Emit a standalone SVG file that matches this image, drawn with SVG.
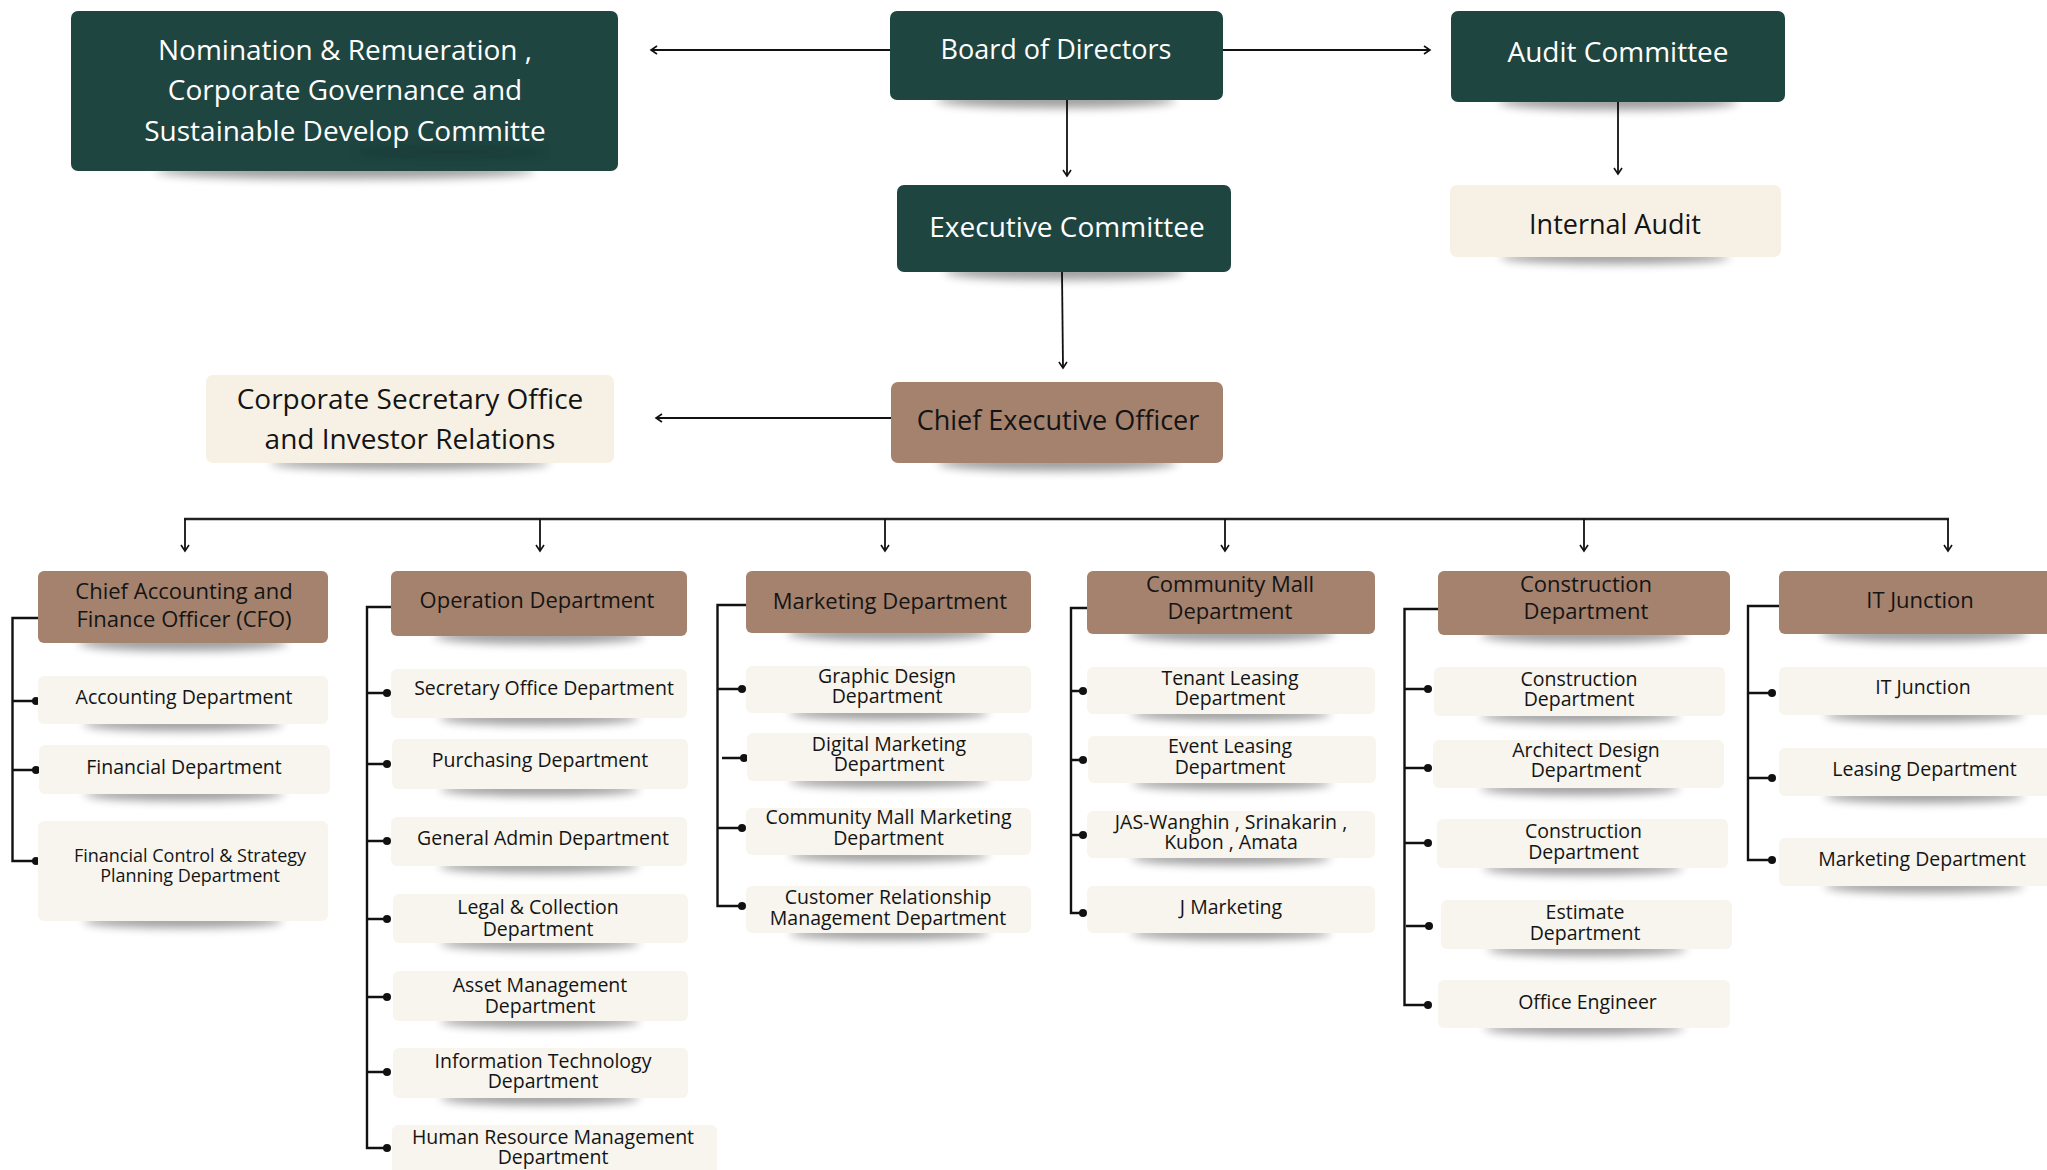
<svg xmlns="http://www.w3.org/2000/svg" width="2047" height="1170" viewBox="0 0 2047 1170">
<defs>
<filter id="sh" x="-50%" y="-100%" width="200%" height="300%"><feGaussianBlur stdDeviation="5"/></filter>
<marker id="ar" markerUnits="userSpaceOnUse" markerWidth="12" markerHeight="12" refX="7" refY="5" orient="auto"><path d="M1,1 L7,5 L1,9" fill="none" stroke="#111" stroke-width="1.6"/></marker>
<style>
.g{fill:#1F4540}
.b{fill:#A4826D}
.c{fill:#F7F1E5}
.s{fill:#F7F5EE}
.shd{fill:#000;opacity:0.38;filter:url(#sh)}
text{font-family:"Open Sans","Liberation Sans",sans-serif;text-anchor:middle;transform:translateY(-1.5px)}
.tw{fill:#fff}
.tk{fill:#141414}
.t28{font-size:28px}
.t27{font-size:27px}
.h{font-size:22px}
.sb{font-size:19.5px}
.sm{font-size:18px}
.ln{fill:none;stroke:#111;stroke-width:1.8}
.br{fill:none;stroke:#111;stroke-width:2.4}
.dot{fill:#111}
</style>
</defs>

<g id="connectors">
<line class="ln" x1="890" y1="50" x2="651" y2="50" marker-end="url(#ar)"/>
<line class="ln" x1="1223" y1="50" x2="1430" y2="50" marker-end="url(#ar)"/>
<line class="ln" x1="1067" y1="100" x2="1067" y2="176" marker-end="url(#ar)"/>
<line class="ln" x1="1618" y1="102" x2="1618" y2="174" marker-end="url(#ar)"/>
<line class="ln" x1="1062" y1="272" x2="1063" y2="368" marker-end="url(#ar)"/>
<line class="ln" x1="891" y1="418" x2="656" y2="418" marker-end="url(#ar)"/>
<line x1="184" y1="519" x2="1949" y2="519" stroke="#222" stroke-width="2.6"/>
<line class="ln" x1="185" y1="519" x2="185" y2="551" marker-end="url(#ar)"/>
<line class="ln" x1="540" y1="519" x2="540" y2="551" marker-end="url(#ar)"/>
<line class="ln" x1="885" y1="519" x2="885" y2="551" marker-end="url(#ar)"/>
<line class="ln" x1="1225" y1="519" x2="1225" y2="551" marker-end="url(#ar)"/>
<line class="ln" x1="1584" y1="519" x2="1584" y2="551" marker-end="url(#ar)"/>
<line class="ln" x1="1948" y1="519" x2="1948" y2="551" marker-end="url(#ar)"/>
<path class="br" d="M38,618 H12.5 V861 H36 M12.5,701 H36 M12.5,770 H36"/>
<circle class="dot" cx="36" cy="701" r="4"/><circle class="dot" cx="36" cy="770" r="4"/><circle class="dot" cx="36" cy="861" r="4"/>
<path class="br" d="M391,607 H367 V1148 H387 M367,693 H387 M367,764 H387 M367,841 H387 M367,919 H387 M367,997 H387 M367,1072 H387"/>
<circle class="dot" cx="387" cy="693" r="4"/><circle class="dot" cx="387" cy="764" r="4"/><circle class="dot" cx="387" cy="841" r="4"/><circle class="dot" cx="387" cy="919" r="4"/><circle class="dot" cx="387" cy="997" r="4"/><circle class="dot" cx="387" cy="1072" r="4"/><circle class="dot" cx="387" cy="1148" r="4"/>
<path class="br" d="M746,605 H717.5 V906 H742 M717.5,689 H742 M722,758 H744 M717.5,828 H742"/>
<circle class="dot" cx="742" cy="689" r="4"/><circle class="dot" cx="744" cy="758" r="4"/><circle class="dot" cx="742" cy="828" r="4"/><circle class="dot" cx="742" cy="906" r="4"/>
<path class="br" d="M1087,608 H1071 V913 H1083 M1071,691 H1083 M1071,760 H1083 M1071,835 H1083"/>
<circle class="dot" cx="1083" cy="691" r="4"/><circle class="dot" cx="1083" cy="760" r="4"/><circle class="dot" cx="1083" cy="835" r="4"/><circle class="dot" cx="1083" cy="913" r="4"/>
<path class="br" d="M1438,609 H1404.5 V1005 H1428 M1404.5,689 H1428 M1404.5,768 H1428 M1404.5,843 H1428 M1406,926 H1429"/>
<circle class="dot" cx="1428" cy="689" r="4"/><circle class="dot" cx="1428" cy="768" r="4"/><circle class="dot" cx="1428" cy="843" r="4"/><circle class="dot" cx="1429" cy="926" r="4"/><circle class="dot" cx="1428" cy="1005" r="4"/>
<path class="br" d="M1779,606 H1748 V860 H1772 M1748,693 H1772 M1748,778 H1772"/>
<circle class="dot" cx="1772" cy="693" r="4"/><circle class="dot" cx="1772" cy="778" r="4"/><circle class="dot" cx="1772" cy="860" r="4"/>
</g>

<g id="nomination">
<ellipse class="shd" cx="345" cy="171" rx="190" ry="8"/>
<rect class="g" x="71" y="11" width="547" height="160" rx="7"/>
<ellipse cx="451" cy="152" rx="95" ry="5" fill="#0d2a27" opacity="0.35" filter="url(#sh)"/>
<text class="tw t28" x="345" y="61">Nomination &amp; Remueration ,<tspan x="345" dy="40">Corporate Governance and</tspan><tspan x="345" dy="41">Sustainable Develop Committe</tspan></text>
</g>

<g id="board">
<ellipse class="shd" cx="1056" cy="100" rx="120" ry="8"/>
<rect class="g" x="890" y="11" width="333" height="89" rx="7"/>
<text class="tw t27" x="1056" y="60">Board of Directors</text>
</g>

<g id="audit-committee">
<ellipse class="shd" cx="1618" cy="102" rx="120" ry="8"/>
<rect class="g" x="1451" y="11" width="334" height="91" rx="7"/>
<text class="tw t28" x="1618" y="63">Audit Committee</text>
</g>

<g id="executive-committee">
<ellipse class="shd" cx="1064" cy="272" rx="120" ry="8"/>
<rect class="g" x="897" y="185" width="334" height="87" rx="7"/>
<text class="tw t28" x="1067" y="238">Executive Committee</text>
</g>

<g id="internal-audit">
<ellipse class="shd" cx="1615" cy="257" rx="115" ry="7"/>
<rect class="c" x="1450" y="185" width="331" height="72" rx="7"/>
<text class="tk t27" x="1615" y="235">Internal Audit</text>
</g>

<g id="corporate-secretary">
<ellipse class="shd" cx="410" cy="463" rx="140" ry="7"/>
<rect class="c" x="206" y="375" width="408" height="88" rx="7"/>
<text class="tk t28" x="410" y="410">Corporate Secretary Office<tspan x="410" dy="40">and Investor Relations</tspan></text>
</g>

<g id="ceo">
<ellipse class="shd" cx="1057" cy="463" rx="120" ry="8"/>
<rect class="b" x="891" y="382" width="332" height="81" rx="7"/>
<text class="tk t27" x="1058" y="431">Chief Executive Officer</text>
</g>

<g id="cfo">
<ellipse class="shd" cx="183" cy="643" rx="105" ry="8"/>
<rect class="b" x="38" y="571" width="290" height="72" rx="6"/>
<text class="tk h" x="184" y="600.5">Chief Accounting and<tspan x="184" dy="27.5">Finance Officer (CFO)</tspan></text>
</g>
<g id="operation">
<ellipse class="shd" cx="539" cy="636" rx="105" ry="8"/>
<rect class="b" x="391" y="571" width="296" height="65" rx="6"/>
<text class="tk h" x="537" y="609">Operation Department</text>
</g>
<g id="marketing">
<ellipse class="shd" cx="889" cy="633" rx="102" ry="8"/>
<rect class="b" x="746" y="571" width="285" height="62" rx="6"/>
<text class="tk h" x="890" y="610.5">Marketing Department</text>
</g>
<g id="community-mall">
<ellipse class="shd" cx="1231" cy="634" rx="103" ry="8"/>
<rect class="b" x="1087" y="571" width="288" height="63" rx="6"/>
<text class="tk h" x="1230" y="593.7">Community Mall<tspan x="1230" dy="26.7">Department</tspan></text>
</g>
<g id="construction">
<ellipse class="shd" cx="1584" cy="635" rx="104" ry="8"/>
<rect class="b" x="1438" y="571" width="292" height="64" rx="6"/>
<text class="tk h" x="1586" y="593.7">Construction<tspan x="1586" dy="26.7">Department</tspan></text>
</g>
<g id="it-junction">
<ellipse class="shd" cx="1924" cy="634" rx="104" ry="8"/>
<rect class="b" x="1779" y="571" width="290" height="63" rx="6"/>
<text class="tk h" x="1920" y="609">IT Junction</text>
</g>

<g id="accounting">
<ellipse class="shd" cx="183" cy="724" rx="100" ry="7"/>
<rect class="s" x="38" y="676" width="290" height="48" rx="6"/>
<text class="tk sb" x="184" y="705">Accounting Department</text>
</g>
<g id="financial">
<ellipse class="shd" cx="184" cy="794" rx="100" ry="7"/>
<rect class="s" x="39" y="745" width="291" height="49" rx="6"/>
<text class="tk sb" x="184" y="775">Financial Department</text>
</g>
<g id="financial-control">
<ellipse class="shd" cx="183" cy="921" rx="100" ry="7"/>
<rect class="s" x="38" y="821" width="290" height="100" rx="6"/>
<text class="tk sm" x="190" y="863.5">Financial Control &amp; Strategy<tspan x="190" dy="19.5">Planning Department</tspan></text>
</g>

<g id="secretary-office">
<ellipse class="shd" cx="539" cy="718" rx="100" ry="7"/>
<rect class="s" x="391" y="669" width="296" height="49" rx="6"/>
<text class="tk sb" x="544" y="696">Secretary Office Department</text>
</g>
<g id="purchasing">
<ellipse class="shd" cx="540" cy="789" rx="100" ry="7"/>
<rect class="s" x="392" y="739" width="296" height="50" rx="6"/>
<text class="tk sb" x="540" y="768">Purchasing Department</text>
</g>
<g id="general-admin">
<ellipse class="shd" cx="539" cy="866" rx="100" ry="7"/>
<rect class="s" x="391" y="817" width="296" height="49" rx="6"/>
<text class="tk sb" x="543" y="846">General Admin Department</text>
</g>
<g id="legal">
<ellipse class="shd" cx="540" cy="943" rx="100" ry="7"/>
<rect class="s" x="393" y="894" width="295" height="49" rx="6"/>
<text class="tk sb" x="538" y="915">Legal &amp; Collection<tspan x="538" dy="22">Department</tspan></text>
</g>
<g id="asset">
<ellipse class="shd" cx="540" cy="1021" rx="100" ry="7"/>
<rect class="s" x="393" y="971" width="295" height="50" rx="6"/>
<text class="tk sb" x="540" y="993">Asset Management<tspan x="540" dy="21">Department</tspan></text>
</g>
<g id="info-tech">
<ellipse class="shd" cx="540" cy="1098" rx="100" ry="7"/>
<rect class="s" x="393" y="1048" width="295" height="50" rx="6"/>
<text class="tk sb" x="543" y="1069">Information Technology<tspan x="543" dy="20.5">Department</tspan></text>
</g>
<g id="hr">
<rect class="s" x="392" y="1125" width="325" height="60" rx="6"/>
<text class="tk sb" x="553" y="1145">Human Resource Management<tspan x="553" dy="20">Department</tspan></text>
</g>

<g id="graphic-design">
<ellipse class="shd" cx="889" cy="713" rx="100" ry="7"/>
<rect class="s" x="746" y="666" width="285" height="47" rx="6"/>
<text class="tk sb" x="887" y="684">Graphic Design<tspan x="887" dy="20.5">Department</tspan></text>
</g>
<g id="digital-marketing">
<ellipse class="shd" cx="889" cy="781" rx="100" ry="7"/>
<rect class="s" x="747" y="733" width="285" height="48" rx="6"/>
<text class="tk sb" x="889" y="752">Digital Marketing<tspan x="889" dy="20">Department</tspan></text>
</g>
<g id="cm-marketing">
<ellipse class="shd" cx="889" cy="855" rx="100" ry="7"/>
<rect class="s" x="746" y="808" width="285" height="47" rx="6"/>
<text class="tk sb" x="888.5" y="825.5">Community Mall Marketing<tspan x="888.5" dy="20.5">Department</tspan></text>
</g>
<g id="crm">
<ellipse class="shd" cx="889" cy="933" rx="100" ry="7"/>
<rect class="s" x="746" y="886" width="285" height="47" rx="6"/>
<text class="tk sb" x="888" y="905.5">Customer Relationship<tspan x="888" dy="20.5">Management Department</tspan></text>
</g>

<g id="tenant-leasing">
<ellipse class="shd" cx="1231" cy="714" rx="100" ry="7"/>
<rect class="s" x="1087" y="667" width="288" height="47" rx="6"/>
<text class="tk sb" x="1230" y="686">Tenant Leasing<tspan x="1230" dy="20">Department</tspan></text>
</g>
<g id="event-leasing">
<ellipse class="shd" cx="1232" cy="783" rx="100" ry="7"/>
<rect class="s" x="1088" y="736" width="288" height="47" rx="6"/>
<text class="tk sb" x="1230" y="754">Event Leasing<tspan x="1230" dy="21">Department</tspan></text>
</g>
<g id="jas">
<ellipse class="shd" cx="1231" cy="858" rx="100" ry="7"/>
<rect class="s" x="1087" y="811" width="288" height="47" rx="6"/>
<text class="tk sb" x="1231" y="830.5">JAS-Wanghin , Srinakarin ,<tspan x="1231" dy="20">Kubon , Amata</tspan></text>
</g>
<g id="j-marketing">
<ellipse class="shd" cx="1231" cy="933" rx="100" ry="7"/>
<rect class="s" x="1087" y="886" width="288" height="47" rx="6"/>
<text class="tk sb" x="1231" y="915">J Marketing</text>
</g>

<g id="construction-1">
<ellipse class="shd" cx="1580" cy="716" rx="100" ry="7"/>
<rect class="s" x="1434" y="667" width="291" height="49" rx="6"/>
<text class="tk sb" x="1579" y="687">Construction<tspan x="1579" dy="20.5">Department</tspan></text>
</g>
<g id="architect-design">
<ellipse class="shd" cx="1580" cy="788" rx="100" ry="7"/>
<rect class="s" x="1433" y="740" width="291" height="48" rx="6"/>
<text class="tk sb" x="1586" y="758">Architect Design<tspan x="1586" dy="20.5">Department</tspan></text>
</g>
<g id="construction-2">
<ellipse class="shd" cx="1583" cy="868" rx="100" ry="7"/>
<rect class="s" x="1437" y="819" width="291" height="49" rx="6"/>
<text class="tk sb" x="1583.5" y="839">Construction<tspan x="1583.5" dy="21">Department</tspan></text>
</g>
<g id="estimate">
<ellipse class="shd" cx="1587" cy="949" rx="100" ry="7"/>
<rect class="s" x="1441" y="900" width="291" height="49" rx="6"/>
<text class="tk sb" x="1585" y="920">Estimate<tspan x="1585" dy="21">Department</tspan></text>
</g>
<g id="office-engineer">
<ellipse class="shd" cx="1584" cy="1028" rx="100" ry="7"/>
<rect class="s" x="1438" y="980" width="292" height="48" rx="6"/>
<text class="tk sb" x="1587.5" y="1010">Office Engineer</text>
</g>

<g id="it-junction-sub">
<ellipse class="shd" cx="1924" cy="715" rx="100" ry="7"/>
<rect class="s" x="1779" y="667" width="290" height="48" rx="6"/>
<text class="tk sb" x="1923" y="695">IT Junction</text>
</g>
<g id="leasing">
<ellipse class="shd" cx="1924" cy="796" rx="100" ry="7"/>
<rect class="s" x="1779" y="748" width="290" height="48" rx="6"/>
<text class="tk sb" x="1924.5" y="777">Leasing Department</text>
</g>
<g id="it-marketing">
<ellipse class="shd" cx="1924" cy="886" rx="100" ry="7"/>
<rect class="s" x="1779" y="838" width="290" height="48" rx="6"/>
<text class="tk sb" x="1922" y="867">Marketing Department</text>
</g>
</svg>
